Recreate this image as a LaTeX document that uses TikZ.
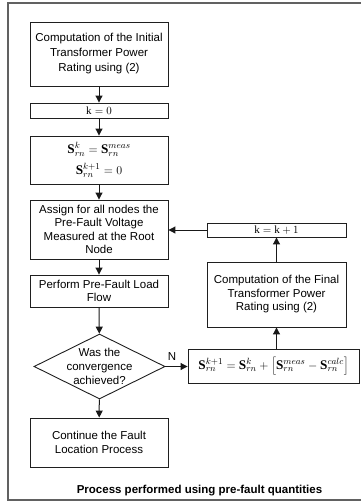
\documentclass[tikz,border=0pt]{standalone}
\usepackage{fontspec}
\setmainfont{Liberation Sans}
\setmathrm{Liberation Serif}
\usetikzlibrary{arrows.meta,shapes.geometric}

\begin{document}
\begin{tikzpicture}[x=1pt,y=-1pt,
  box/.style={draw=black!88, line width=0.9pt, align=center, inner sep=0pt,
    font=\fontsize{11.5}{13.5}\selectfont},
  mathbox/.style={box, font=\fontsize{13.2}{15}\selectfont},
  flow/.style={draw=black!90, line width=1pt, -{Triangle[length=7pt,width=7pt]}},
  frame/.style={draw=black!62, line width=1.4pt},
]
\useasboundingbox (0,0) rectangle (360,503);

% outer frame (its right side runs off the page)
\draw[frame] (362,3) -- (8,3) -- (8,500) -- (362,500);

% main column
\node[box, minimum width=138pt, minimum height=64pt,
      font=\fontsize{11.5}{15}\selectfont] (init) at (99,54)
  {Computation of the Initial\\Transformer Power\\Rating using (2)};
\node[mathbox, minimum width=138pt, minimum height=15pt,
      font=\fontsize{11}{12}\selectfont] (kzero) at (99,110.5)
  {$\mathrm{k} = 0$};
\node[mathbox, minimum width=138pt, minimum height=48pt] (sinit) at (99,160)
  {$\mathbf{S}_{rn}^{k} = \mathbf{S}_{rn}^{meas}$\\[6pt]$\mathbf{S}_{rn}^{k+1} = 0$};
\node[box, minimum width=138pt, minimum height=59pt] (assign) at (99,229.5)
  {Assign for all nodes the\\Pre-Fault Voltage\\Measured at the Root\\Node};
\node[box, minimum width=138pt, minimum height=32pt] (flowcalc) at (99,291)
  {Perform Pre-Fault Load\\Flow};
\node[draw=black!88, line width=0.9pt, diamond, inner sep=0pt,
      minimum width=131pt, minimum height=65pt] (conv) at (99.5,366.5) {};
\node[align=center, inner sep=0pt, font=\fontsize{11.5}{14}\selectfont]
  (convtext) at (conv.center) {Was the\\convergence\\achieved?};
\node[box, minimum width=138pt, minimum height=49pt] (cont) at (99,442.5)
  {Continue the Fault\\Location Process};

% update loop
\node[mathbox, minimum width=171pt, minimum height=34pt] (update) at (273.5,366)
  {$\mathbf{S}_{rn}^{k+1} = \mathbf{S}_{rn}^{k} + \left[\mathbf{S}_{rn}^{meas} - \mathbf{S}_{rn}^{calc}\right]$};
\node[box, minimum width=139pt, minimum height=65pt] (final) at (276.5,294.5)
  {Computation of the Final\\Transformer Power\\Rating using (2)};
\node[mathbox, minimum width=139pt, minimum height=14pt,
      font=\fontsize{11}{12}\selectfont] (kinc) at (276.5,230)
  {$\mathrm{k} = \mathrm{k} + 1$};

% connectors
\draw[flow] (init) -- (kzero);
\draw[flow] (kzero) -- (sinit);
\draw[flow] (sinit) -- (assign);
\draw[flow] (assign) -- (flowcalc);
\draw[flow] (flowcalc) -- (conv);
\draw[flow] (conv) -- (cont);
\draw[flow] (conv.east) -- (update.west |- conv.east);
\node[font=\fontsize{11.5}{13}\selectfont, inner sep=0pt] (nlabel) at (172,357) {N};
\draw[flow] (final.south |- update.north) -- (final.south);
\draw[flow] (final) -- (kinc);
\draw[flow] (kinc.west) -- (assign.east |- kinc.west);

% caption
\node[font=\fontsize{11.5}{13}\selectfont\bfseries, inner sep=0pt] (caption) at (199.5,490.5)
  {Process performed using pre-fault quantities};
\end{tikzpicture}
\end{document}
